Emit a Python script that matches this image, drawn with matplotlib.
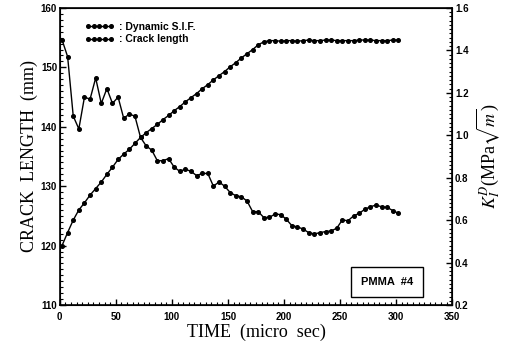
import matplotlib
matplotlib.use("Agg")
import matplotlib.pyplot as plt
from matplotlib.ticker import MultipleLocator
import numpy as np

# sampling times (micro sec), one point every 5 us
time_us = np.arange(2, 303, 5)

# crack length (mm), left axis
crack_mm = [120.0, 122.2, 124.3, 126.0, 127.2, 128.5, 129.6, 130.7, 132.0, 133.2,
            134.5, 135.4, 136.2, 137.2, 138.2, 139.0, 139.7, 140.4, 141.2, 141.9,
            142.7, 143.4, 144.2, 144.9, 145.6, 146.4, 147.1, 147.9, 148.6, 149.3,
            150.1, 150.8, 151.6, 152.3, 153.0, 153.8, 154.3, 154.5, 154.5, 154.4,
            154.5, 154.5, 154.4, 154.5, 154.6, 154.5, 154.5, 154.6, 154.6, 154.5,
            154.5, 154.5, 154.5, 154.6, 154.6, 154.6, 154.5, 154.5, 154.5, 154.6,
            154.6]

# dynamic stress intensity factor (MPa sqrt(m)), right axis
sif = [1.45, 1.37, 1.09, 1.03, 1.18, 1.17, 1.27, 1.15, 1.22, 1.15,
       1.18, 1.08, 1.10, 1.09, 0.99, 0.95, 0.93, 0.88, 0.88, 0.89,
       0.85, 0.83, 0.84, 0.83, 0.81, 0.82, 0.82, 0.76, 0.78, 0.76,
       0.73, 0.715, 0.71, 0.69, 0.64, 0.64, 0.612, 0.613, 0.629, 0.626,
       0.604, 0.574, 0.568, 0.558, 0.541, 0.535, 0.541, 0.546, 0.549, 0.562,
       0.601, 0.597, 0.62, 0.632, 0.651, 0.663, 0.671, 0.663, 0.66, 0.645,
       0.632]

plt.rcParams['mathtext.fontset'] = 'stix'
serif = 'Liberation Serif'
tick_font = dict(family='Liberation Sans', weight='bold', size=7)

fig = plt.figure(figsize=(5.11, 3.46), dpi=100)
ax = fig.add_axes([0.117, 0.1185, 0.768, 0.8585])
ax2 = ax.twinx()

l1, = ax2.plot(time_us, sif, 'k-', marker='o', ms=2.6, lw=1)
l2, = ax.plot(time_us, crack_mm, 'k-', marker='o', ms=2.6, lw=1)

ax.set_xlim(0, 350)
ax.set_ylim(110, 160)
ax2.set_ylim(0.2, 1.6)

ax.xaxis.set_minor_locator(MultipleLocator(5))
ax.yaxis.set_minor_locator(MultipleLocator(1))
ax2.yaxis.set_minor_locator(MultipleLocator(0.02))

for a in (ax, ax2):
    a.tick_params(which='major', direction='in', length=4, width=1, pad=2)
    a.tick_params(which='minor', direction='in', length=2, width=0.8)
ax.tick_params(axis='x', which='major', pad=5)

ax2.set_yticks(np.arange(0.2, 1.61, 0.2))
ax2.set_yticklabels(['%.1f' % v for v in np.arange(0.2, 1.61, 0.2)], fontdict=tick_font)
ax.set_xticks(np.arange(0, 351, 50))
ax.set_xticklabels([str(v) for v in range(0, 351, 50)], fontdict=tick_font)
ax.set_yticks(np.arange(110, 161, 10))
ax.set_yticklabels([str(v) for v in range(110, 161, 10)], fontdict=tick_font)

for s in ax.spines.values():
    s.set_linewidth(1.2)

ax.set_xlabel('TIME  (micro  sec)', family=serif, size=13, labelpad=1)
ax.set_ylabel('CRACK  LENGTH  (mm)', family=serif, size=13, labelpad=2)
ax2.set_ylabel(r'$K_I^D$(MPa$\sqrt{m}$)', family=serif, size=13, labelpad=4)

ax.legend([l1, l2], [': Dynamic S.I.F.', ': Crack length'], loc='upper left',
          bbox_to_anchor=(0.04, 0.985), frameon=False, numpoints=5,
          markerscale=1.0, handlelength=2.8, handletextpad=0.5,
          labelspacing=0.25, prop=dict(family='Liberation Sans', weight='bold', size=7.5))

ax.text(0.834, 0.077, 'PMMA  #4', transform=ax.transAxes, ha='center', va='center',
        family='Liberation Sans', weight='bold', size=8,
        bbox=dict(boxstyle='square,pad=0.9', fc='white', ec='black', lw=1))

fig.savefig('out.png', dpi=100)
